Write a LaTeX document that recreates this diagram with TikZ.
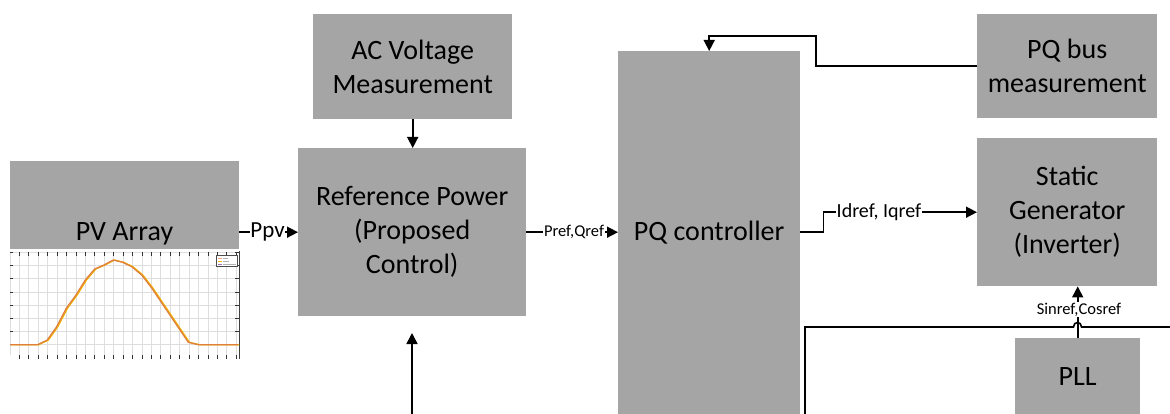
\documentclass[tikz,border=0pt]{standalone}
\usepackage{fontspec}
\setmainfont{Carlito}
\usetikzlibrary{arrows.meta,calc}
\definecolor{boxgray}{HTML}{A5A5A5}
\definecolor{gridgray}{HTML}{DEDEDE}
\definecolor{curveor}{HTML}{E07F3A}
\definecolor{curveye}{HTML}{F2B600}
\definecolor{legpur}{HTML}{A070C0}
\definecolor{legsal}{HTML}{F0A080}
\begin{document}
\begin{tikzpicture}[x=1pt,y=-1pt,
  blk/.style={fill=boxgray, draw=none, inner sep=0pt, anchor=north west, align=center,
              font=\fontsize{28}{34}\selectfont},
  conn/.style={line width=1.6pt, -{Triangle[length=11pt,width=11pt]}},
  wire/.style={line width=1.6pt},
  lblppv/.style={fill=white, inner sep=0.8pt, font=\fontsize{23}{26}\selectfont},
  lblpref/.style={fill=white, inner sep=0.8pt, font=\fontsize{16.5}{19}\selectfont},
  lblid/.style={fill=white, inner sep=0.8pt, font=\fontsize{20}{23}\selectfont},
  lblsin/.style={fill=white, inner sep=0.3pt, font=\fontsize{16.5}{19}\selectfont},
  gridln/.style={draw=gridgray, line width=0.8pt},
  tickln/.style={draw=black!80, line width=0.8pt}]
\useasboundingbox[fill=white] (0,0) rectangle (1170,414);

% ---- blocks
\node[blk, minimum width=199pt, minimum height=105pt] (ac) at (313,14) {AC Voltage\\Measurement};
\node[blk, minimum width=228pt, minimum height=168pt] (ref) at (298,148) {Reference Power\\(Proposed\\Control)};
\node[blk, minimum width=229pt, minimum height=88pt] (pv) at (10,161) {};
\node[font=\fontsize{28}{34}\selectfont, anchor=base, inner sep=0pt] (pvtext) at (124.5,240.5) {PV Array};
\node[blk, minimum width=182pt, minimum height=363pt] (pq) at (618,51) {PQ controller};
\node[blk, minimum width=180pt, minimum height=104pt] (pqbus) at (977,14) {PQ bus\\measurement};
\node[blk, minimum width=180pt, minimum height=148pt] (static) at (977,138) {Static\\Generator\\(Inverter)};
\node[blk, minimum width=125pt, minimum height=76pt] (pll) at (1015,338) {PLL};

% ---- PV chart
\foreach \i in {0,...,24} \draw[gridln] ({10+9.43*\i},252) -- ({10+9.43*\i},355);
\foreach \k in {0,...,7} \draw[gridln] (10,{344.7-13.17*\k}) -- (239,{344.7-13.17*\k});
\foreach \i in {1,...,24} {
  \draw[tickln] ({10+9.43*\i},252) -- ({10+9.43*\i},256);
  \draw[tickln] ({10+9.43*\i},355) -- ({10+9.43*\i},359);
}
\foreach \k in {1,...,7} {
  \draw[tickln] (10,{344.7-13.17*\k}) -- (13,{344.7-13.17*\k});
  \draw[tickln] (235,{344.7-13.17*\k}) -- (239,{344.7-13.17*\k});
}
\draw[draw=black!75, line width=1pt] (239,251) -- (239,359);
\draw[curveye, line width=1.2pt, xshift=1.2pt]
  (10,344.7) -- (37.7,344.7) -- (47.3,340) -- (56.7,326.7) -- (66.3,308.3) -- (76,295)
  -- (85.3,280) -- (94.7,269) -- (104,265) -- (113.3,260) -- (122.7,262.3) -- (131.7,266.7)
  -- (141.7,275) -- (151.7,288) -- (188.3,342.3) -- (198.3,344.7) -- (238,344.7);
\draw[curveor, line width=1.3pt]
  (10,344.7) -- (37.7,344.7) -- (47.3,340) -- (56.7,326.7) -- (66.3,308.3) -- (76,295)
  -- (85.3,280) -- (94.7,269) -- (104,265) -- (113.3,260) -- (122.7,262.3) -- (131.7,266.7)
  -- (141.7,275) -- (151.7,288) -- (188.3,342.3) -- (198.3,344.7) -- (238,344.7);
% legend
\draw[fill=white, draw=black!70, line width=0.8pt] (216.7,255.7) rectangle (237.3,266.7);
\draw[legsal, line width=0.8pt] (218,258) -- (222,258);
\draw[curveye, line width=0.8pt] (218,261) -- (222,261);
\draw[legpur, line width=0.8pt] (218,264) -- (222,264);
\draw[black!30, line width=0.5pt] (223,258) -- (228,258);
\draw[black!30, line width=0.5pt] (223,261) -- (229,261);
\draw[black!30, line width=0.5pt] (223,264) -- (236,264);

% ---- connectors
\draw[conn] (ac.south) -- (ac.south |- ref.north);

\draw[conn] (pv.east |- ref.center) -- (ref.west);
\node[lblppv] (ppvl) at ($(pv.east |- ref.center)!0.48!(ref.west)$) {Ppv};

\draw[conn] (ref.east) -- (pq.west |- ref.east);
\node[lblpref] (prefl) at (574,232) {Pref,Qref};

\draw[conn] (pq.east |- ref.east) -- ++(23,0) |- (static.west);
\node[lblid] (idl) at (879,212) {Idref, Iqref};

\draw[conn] (pqbus.west) -| (816,36) -| (pq.north);

\coordinate (fbin) at (412,414);
\coordinate (fbtip) at (412,333);
\draw[conn] (fbin) -- (fbtip);

\coordinate (lpA) at (805,414);
\coordinate (lpB) at (1170,327);
\draw[wire] (lpA) -- (805,327) -- (1073.5,327) .. controls (1073.5,321) and (1081.5,321) .. (1081.5,327) -- (lpB);

\draw[conn] (pll.north) -- (pll.north |- static.south);
\node[lblsin] (sinl) at (1079,309.5) {Sinref,Cosref};
\end{tikzpicture}
\end{document}
